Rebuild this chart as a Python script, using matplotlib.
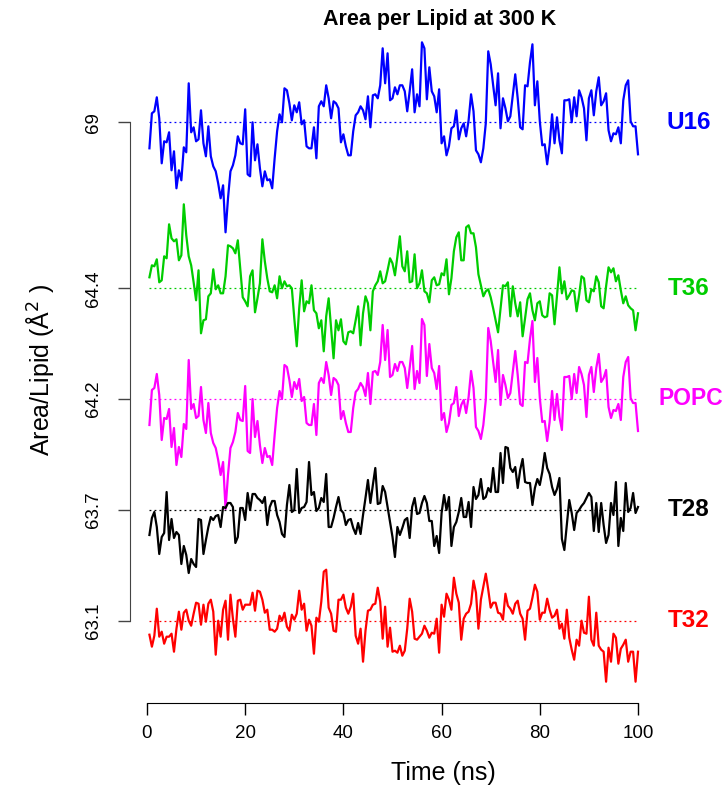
import numpy as np
import matplotlib
matplotlib.use("Agg")
import matplotlib.pyplot as plt

plt.rcParams['font.family'] = ['Liberation Sans', 'DejaVu Sans']

# sampling every 0.5 ns over the 100 ns run
time_ns = np.arange(1, 201) * 0.5

labels = ['U16', 'T36', 'POPC', 'T28', 'T32']
mean_area = [69, 64.4, 64.2, 63.7, 63.1]
colors = ['#0000FF', '#00CD00', '#FF00FF', '#000000', '#FF0000']

# fluctuation about the mean (A^2)
u16_dev = [
    -0.26, 0.09, 0.11, 0.25, 0.04, -0.41, -0.19, -0.20, -0.10, -0.48,
    -0.29, -0.66, -0.48, -0.58, -0.25, -0.30, 0.39, -0.10, -0.05, -0.19,
    -0.17, 0.12, -0.21, -0.34, -0.04, -0.34, -0.44, -0.49, -0.61, -0.76,
    -0.63, -1.10, -0.76, -0.49, -0.43, -0.33, -0.14, -0.21, -0.22, 0.13,
    -0.52, -0.54, 0.00, -0.38, -0.22, -0.46, -0.64, -0.49, -0.58, -0.57,
    -0.66, -0.36, -0.09, 0.08, 0.00, 0.34, 0.32, 0.19, 0.02, 0.17,
    0.10, 0.20, -0.02, 0.02, -0.24, -0.26, -0.26, -0.05, -0.36, 0.16,
    0.21, 0.16, 0.37, 0.24, 0.04, 0.21, 0.19, 0.14, -0.20, -0.12,
    -0.24, -0.33, -0.33, -0.09, 0.07, 0.10, 0.16, 0.12, 0.03, 0.26,
    -0.05, 0.27, 0.28, 0.24, 0.37, 0.74, 0.39, 0.69, 0.22, 0.24,
    0.35,
    0.28, 0.37, 0.37, 0.31, 0.11, 0.31, 0.53, 0.10, 0.28, 0.16,
    0.80, 0.74, 0.23, 0.55, 0.31, 0.26, 0.10, 0.33, -0.21, -0.14,
    -0.33, -0.24, -0.06, -0.04, 0.12, -0.17, -0.06, -0.01, -0.14, 0.02,
    0.28, 0.11, -0.28, -0.32, -0.40, -0.26, -0.01, 0.71, 0.58, 0.37,
    0.17, 0.49, -0.06, 0.24, 0.14, 0.01, 0.06, 0.27, 0.48, 0.24,
    -0.05, -0.07, 0.37, 0.36, 0.60, 0.78, 0.17, 0.41, 0.01, -0.23,
    -0.22, -0.42, -0.23, 0.08, -0.21, 0.05, -0.18, -0.31, 0.22, 0.22,
    0.23, 0.00, 0.25, 0.06, 0.32, 0.25, 0.14, -0.18, 0.24, 0.32,
    0.07, 0.31, 0.45, 0.17, 0.21, 0.29, -0.08, -0.19, -0.11, -0.12,
    -0.05, -0.21, 0.22, 0.37, 0.42, 0.01, -0.04, -0.04, -0.32,
]

t36_dev = [
    0.11, 0.23, 0.22, 0.29, 0.06, 0.08, 0.32, 0.30, 0.64, 0.50,
    0.47, 0.49, 0.28, 0.33, 0.84, 0.53, 0.32, 0.23, 0.06, -0.12,
    0.18, -0.45, -0.32, -0.31, -0.08, -0.05, 0.19, -0.01, 0.03, -0.05,
    -0.05, 0.12, 0.43, 0.42, 0.40, 0.35, 0.48, 0.20, -0.09, -0.13,
    -0.18, 0.12, 0.18, -0.24, -0.10, 0.05, 0.49, 0.27, 0.10, -0.03,
    -0.04, 0.03, -0.10, 0.12, 0.00, 0.07, 0.02, 0.03, 0.00, -0.30,
    -0.58, -0.20, 0.08, -0.23, -0.13, -0.15, 0.03, -0.22, -0.25, -0.40,
    -0.32, -0.63, -0.28, -0.10, -0.40, -0.70, -0.32, -0.42, -0.31, -0.53,
    -0.56, -0.44, -0.43, -0.45, -0.32, -0.18, -0.57, -0.25, -0.08, -0.15,
    -0.42, -0.03, 0.03, 0.07, 0.17, 0.05, 0.07, 0.18, 0.30, 0.25,
    0.13,
    0.32, 0.52, 0.22, 0.17, 0.37, 0.06, 0.07, 0.34, 0.00, 0.05,
    0.18, -0.03, -0.05, -0.14, 0.08, 0.11, 0.03, 0.04, 0.15, 0.13,
    0.29, -0.06, 0.10, 0.37, 0.51, 0.56, 0.28, 0.28, 0.61, 0.63,
    0.55, 0.55, 0.41, 0.14, 0.03, -0.08, -0.03, -0.01, -0.09, -0.20,
    -0.32, -0.44, -0.20, 0.03, 0.02, 0.06, -0.28, 0.02, -0.15, -0.28,
    -0.14, -0.48, -0.30, -0.11, -0.05, -0.22, -0.32, -0.15, -0.13, -0.27,
    -0.29, -0.28, -0.05, -0.07, -0.36, -0.08, 0.21, -0.05, 0.07, -0.11,
    -0.07, -0.02, -0.03, -0.23, -0.07, 0.12, 0.10, -0.12, -0.14, -0.01,
    -0.03, 0.12, 0.06, -0.18, -0.20, 0.02, 0.21, 0.16, 0.20, 0.07,
    0.13, -0.02, -0.15, -0.08, -0.17, -0.20, -0.22, -0.42, -0.25,
]

# POPC trace in the figure is the same curve as U16
popc_dev = list(u16_dev)

t28_dev = [
    -0.25, -0.08, -0.02, -0.17, -0.44, -0.27, -0.23, 0.18, -0.30, -0.09,
    -0.28, -0.22, -0.25, -0.54, -0.36, -0.45, -0.63, -0.49, -0.54, -0.57,
    -0.09, -0.10, -0.44, -0.30, -0.17, -0.07, -0.10, -0.06, -0.05, -0.17,
    0.03, 0.02, 0.07, 0.07, 0.03, -0.33, -0.27, 0.02, 0.02, -0.10,
    0.17, 0.00, 0.16, 0.16, 0.12, 0.10, 0.07, 0.13, -0.15, 0.03,
    0.09, 0.09, -0.05, -0.12, -0.24, -0.27, 0.05, 0.25, -0.02, 0.00,
    0.41, -0.03, 0.02, 0.03, 0.08, 0.48, 0.15, 0.18, -0.01, 0.02,
    0.12, 0.08, 0.36, -0.17, -0.17, -0.08, 0.03, 0.13, 0.00, -0.03,
    -0.15, -0.10, -0.09, -0.18, -0.24, -0.13, -0.24, -0.05, 0.12, 0.30,
    0.07, 0.25, 0.42, 0.06, 0.07, 0.24, 0.18, 0.03, -0.12, -0.27,
    -0.47,
    -0.17, -0.25, -0.18, -0.10, -0.08, -0.28, 0.03, 0.12, -0.04, -0.03,
    0.07, 0.14, 0.07, -0.11, -0.11, -0.36, -0.26, -0.43, -0.03, 0.15,
    0.00, 0.13, -0.36, -0.17, -0.12, -0.02, 0.12, -0.07, -0.07, 0.08,
    -0.17, 0.23, 0.11, 0.15, 0.31, 0.11, 0.13, 0.22, 0.18, 0.42,
    0.18, 0.18, 0.57, 0.27, 0.63, 0.62, 0.42, 0.38, 0.43, 0.22,
    0.40, 0.51, 0.28, 0.27, 0.27, 0.05, 0.22, 0.31, 0.25, 0.38,
    0.57, 0.42, 0.36, 0.23, 0.15, 0.21, 0.32, -0.29, -0.40, -0.15,
    0.10, -0.03, -0.20, -0.03, 0.00, 0.04, 0.07, 0.12, 0.17, 0.13,
    -0.21, 0.07, -0.22, 0.07, -0.15, -0.33, -0.25, 0.07, -0.05, 0.28,
    -0.36, -0.08, -0.21, 0.27, -0.02, 0.02, 0.17, -0.03, 0.03,
]

t32_dev = [
    -0.14, -0.26, -0.15, 0.12, -0.16, -0.11, -0.23, -0.16, -0.16, -0.13,
    -0.31, -0.08, 0.09, -0.09, 0.08, 0.11, 0.00, -0.05, 0.07, 0.18,
    0.17, -0.04, 0.16, -0.01, 0.17, 0.21, 0.09, -0.34, 0.00, -0.16,
    0.11, 0.20, -0.19, 0.26, 0.02, -0.16, 0.20, 0.21, 0.11, 0.16,
    0.16, 0.16, 0.28, 0.10, 0.30, 0.29, 0.21, 0.08, 0.11, -0.09,
    -0.09, -0.11, -0.08, 0.05, 0.00, 0.08, -0.06, -0.10, 0.06, 0.01,
    0.07, 0.30, 0.11, 0.17, -0.10, 0.01, -0.05, -0.33, 0.03, -0.01,
    0.19, 0.49, 0.51, 0.13, 0.07, -0.10, -0.11, 0.21, 0.21, 0.26,
    0.13, 0.07, 0.14, 0.27, -0.15, -0.23, -0.08, -0.41, -0.10, 0.10,
    0.11, 0.16, 0.17, 0.33, 0.19, -0.18, 0.14, -0.26, -0.07, -0.31,
    -0.30,
    -0.32, -0.25, -0.35, -0.30, -0.08, 0.22, 0.09, -0.18, -0.19, -0.16,
    -0.13, -0.05, -0.10, -0.17, -0.12, -0.13, 0.02, -0.32, 0.16, 0.04,
    0.27, 0.21, 0.11, 0.43, 0.27, 0.18, -0.19, 0.02, 0.07, 0.09,
    0.17, 0.40, 0.28, -0.08, 0.21, 0.34, 0.47, 0.31, 0.13, 0.18,
    0.18, 0.08, 0.07, 0.01, 0.27, 0.15, 0.12, 0.07, 0.17, 0.20,
    0.07, 0.02, -0.19, 0.10, 0.12, 0.23, 0.36, 0.29, 0.01, 0.08,
    0.08, 0.22, 0.11, 0.03, 0.05, 0.11, -0.08, -0.03, -0.18, 0.11,
    -0.17, -0.29, -0.39, -0.19, -0.25, 0.00, -0.12, -0.13, 0.24, -0.19,
    -0.25, 0.08, -0.25, -0.29, -0.31, -0.61, -0.27, -0.41, -0.13, -0.17,
    -0.43, -0.28, -0.24, -0.19, -0.41, -0.31, -0.31, -0.61, -0.31,
]

series = [u16_dev, t36_dev, popc_dev, t28_dev, t32_dev]

# vertical stacking of the traces (plot units, 1 unit = 1 A^2)
slots = [5.807, 4.147, 3.04, 1.93, 0.823]

W, H = 726, 790
fig = plt.figure(figsize=(W / 100, H / 100), dpi=100)
ax = fig.add_axes([129.5 / W, 87 / H, 528 / W, 665 / H])

for dev, slot, lab, c in zip(series, slots, labels, colors):
    ax.plot(time_ns, slot + np.array(dev), color=c, lw=1.6, clip_on=False)
    ax.hlines(slot, time_ns[0], time_ns[-1], colors=c,
              linestyles=(0, (1.5, 2.5)), lw=0.9)
    if lab == 'POPC':
        # long label pushed against the right edge
        ax.text(117.4, slot, lab, color=c, fontsize=16.5, fontweight='bold',
                ha='right', va='center', clip_on=False)
    else:
        ax.text(110.3, slot, lab, color=c, fontsize=17.5, fontweight='bold',
                ha='center', va='center', clip_on=False)

ax.set_xlim(-3.56, 103.97)
ax.set_ylim(0, 6.65)
ax.set_xticks([0, 20, 40, 60, 80, 100])
ax.set_yticks(slots)
ax.set_yticklabels([f'{m:g}' for m in mean_area], rotation=90, va='center')

for side in ['top', 'right']:
    ax.spines[side].set_visible(False)
ax.spines['bottom'].set_bounds(0, 100)
ax.spines['left'].set_bounds(min(slots), max(slots))
ax.spines['left'].set_color('#444444')

ax.tick_params(axis='both', direction='out', length=8.5, width=1, labelsize=13.5)
ax.tick_params(axis='x', pad=7)
ax.tick_params(axis='y', pad=11, color='#444444')

fig.text(440 / W, 1 - 20 / H, 'Area per Lipid at 300 K', fontsize=15.5,
         fontweight='bold', ha='center', va='center')
fig.text(443 / W, 1 - 773 / H, 'Time (ns)', fontsize=18, ha='center', va='center')
fig.text(40 / W, 1 - 370 / H, 'Area/Lipid (Å$^2$ )', fontsize=18, rotation=90,
         ha='center', va='center')

fig.savefig('out.png', dpi=100)
